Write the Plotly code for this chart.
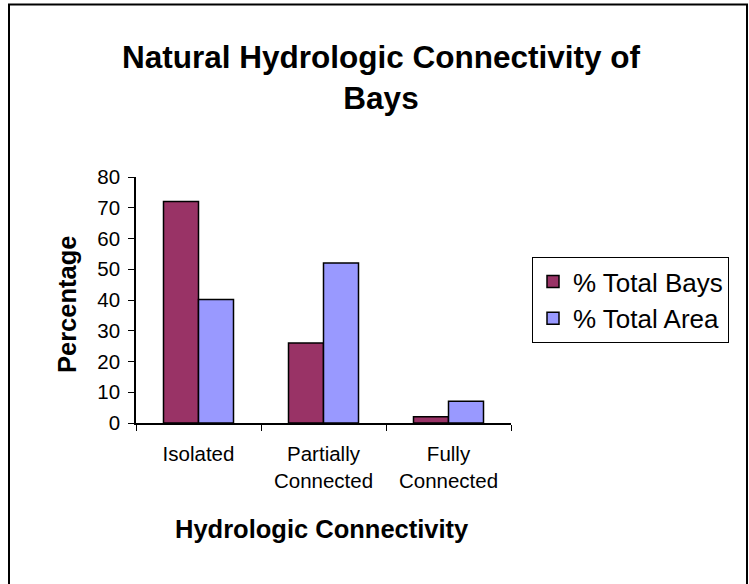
import plotly.graph_objects as go

categories = ["Isolated", "Partially<br>Connected", "Fully<br>Connected"]
total_bays = [72, 26, 2]
total_area = [40.2, 52, 7.1]
series_names = ["% Total Bays", "% Total Area"]
y_ticks = [0, 10, 20, 30, 40, 50, 60, 70, 80]

W, H = 749, 584
L, R, T, B = 136, 511, 177, 423

def px_x(p):
    return (p - L) / (R - L)

def px_y(p):
    return (B - p) / (B - T)

fig = go.Figure()
fig.add_trace(go.Bar(x=categories, y=total_bays, name=series_names[0],
                     marker=dict(color="#993366", line=dict(color="black", width=1.5))))
fig.add_trace(go.Bar(x=categories, y=total_area, name=series_names[1],
                     marker=dict(color="#9999FF", line=dict(color="black", width=1.5))))

font_family = "Liberation Sans, Arial, sans-serif"

fig.update_layout(
    width=W, height=H,
    margin=dict(l=L, r=W - R, t=T, b=H - B, pad=0),
    paper_bgcolor="white", plot_bgcolor="white",
    font=dict(family=font_family, color="black"),
    barmode="group", bargap=0.44, bargroupgap=0,
    showlegend=True,
    legend=dict(x=px_x(532), y=px_y(257), xanchor="left", yanchor="top",
                bordercolor="black", borderwidth=1, bgcolor="white",
                font=dict(size=26, family=font_family),
                tracegroupgap=0),
    title=dict(text="<b>Natural Hydrologic Connectivity of<br>Bays</b>",
               x=381 / W, xanchor="center", xref="container",
               y=1 - 68 / H, yanchor="top", yref="container",
               font=dict(size=31.5, family=font_family)),
)
fig.update_xaxes(showline=True, linecolor="black", linewidth=1.5,
                 ticks="outside", ticklen=6, tickcolor="black", tickwidth=1,
                 tickson="boundaries", showgrid=False, ticklabelstandoff=12,
                 tickfont=dict(size=20.5, family=font_family))
fig.update_yaxes(range=[0, 80], tickvals=y_ticks, showline=True, linecolor="black",
                 linewidth=1.5, ticks="outside", ticklen=6, tickcolor="black",
                 showgrid=False, zeroline=False, ticklabelstandoff=4,
                 tickfont=dict(size=20.5, family=font_family))

fig.add_annotation(text="<b>Hydrologic Connectivity</b>", xref="paper", yref="paper",
                   x=px_x(322), y=px_y(529), xanchor="center", yanchor="middle",
                   showarrow=False, font=dict(size=25.5, family=font_family))
fig.add_annotation(text="<b>Percentage</b>", xref="paper", yref="paper",
                   x=px_x(67), y=px_y(304), xanchor="center", yanchor="middle",
                   textangle=-90, showarrow=False, font=dict(size=25.5, family=font_family))

fig.add_shape(type="rect", xref="paper", yref="paper",
              x0=px_x(9), x1=px_x(747), y0=px_y(600), y1=px_y(4.5),
              line=dict(color="black", width=2), fillcolor="rgba(0,0,0,0)", layer="above")

fig.write_html("out.html", config={"displayModeBar": False},
               post_script="document.body.style.margin='0';document.body.style.padding='0';")
